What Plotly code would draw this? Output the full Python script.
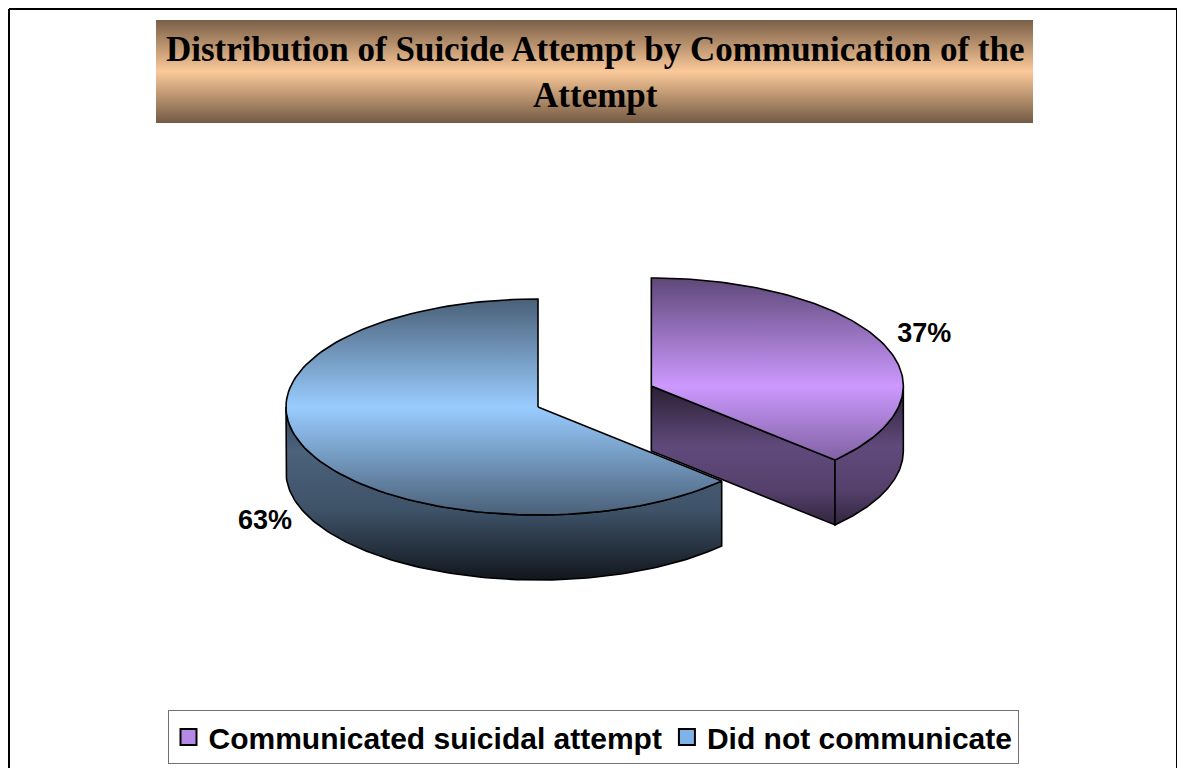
import numpy as np
import plotly.graph_objects as go

# ---- data ----
labels = ["Communicated suicidal attempt", "Did not communicate"]
values = [37, 63]
text_labels = ["37%", "63%"]
pulls = [0.49, 0.0]

# ---- styles ----
top_scales = [
    [[0, "#5e4878"], [0.5, "#cc99ff"], [1, "#5e4878"]],
    [[0, "#4a6078"], [0.5, "#99ccff"], [1, "#4a6078"]],
]
wall_scales = [
    [[0, "#2a1f33"], [0.35, "#604a7c"], [0.6, "#55406c"], [0.85, "#2a1f33"], [1, "#1e1626"]],
    [[0, "#34465a"], [0.25, "#4b627b"], [0.6, "#3e5268"], [1, "#11161d"]],
]
legend_colors = ["#b58ae6", "#7fb2e6"]

W, H = 1185, 768
OFF = 8  # page body margin
CX, CY = 538, 407
RX, RY = 252, 108
DEPTH = 65

fig = go.Figure()


def pt(theta, cx, cy, dz=0.0):
    t = np.radians(theta)
    return cx + RX * np.sin(t), cy - RY * np.cos(t) + dz


def arc(a0, a1, cx, cy, dz=0.0, n=120):
    th = np.linspace(a0, a1, n)
    xs, ys = pt(th, cx, cy, dz)
    return list(xs), list(ys)


def poly(xs, ys, scale, y0, y1, lw=1.6):
    fig.add_trace(go.Scatter(
        x=xs, y=ys, mode="lines", fill="toself",
        line=dict(color="black", width=lw),
        fillgradient=dict(type="vertical", colorscale=scale, start=y0, stop=y1),
        hoverinfo="skip", showlegend=False,
    ))


# title box with gradient
poly([156, 1033, 1033, 156, 156], [20, 20, 123, 123, 20],
     [[0, "#7a5f47"], [0.5, "#fbc999"], [1, "#735a43"]], 20, 123, lw=0)

total = sum(values)
start = 0.0
label_pos = []
for i, v in enumerate(values):
    a0 = start
    a1 = start + 360.0 * v / total
    start = a1
    mid = (a0 + a1) / 2
    m = np.radians(mid)
    cx = CX + pulls[i] * RX * np.sin(m)
    cy = CY - pulls[i] * RY * np.cos(m)
    ws = wall_scales[i]
    if np.sin(np.radians(a1)) > 1e-6:
        px, py = pt(a1, cx, cy)
        poly([cx, px, px, cx, cx], [cy, py, py + DEPTH, cy + DEPTH, cy], ws, cy, cy + RY + DEPTH)
    if np.sin(np.radians(a0)) < -1e-6:
        px, py = pt(a0, cx, cy)
        poly([cx, px, px, cx, cx], [cy, py, py + DEPTH, cy + DEPTH, cy], ws, cy, cy + RY + DEPTH)
    w0, w1 = max(a0, 90), min(a1, 270)
    if w1 > w0:
        tx, ty = arc(w0, w1, cx, cy)
        bx, by = arc(w1, w0, cx, cy, DEPTH)
        poly(tx + bx + [tx[0]], ty + by + [ty[0]], ws, cy, cy + RY + DEPTH)
    ax_, ay_ = arc(a0, a1, cx, cy)
    poly([cx] + ax_ + [cx], [cy] + ay_ + [cy], top_scales[i], cy - RY, cy + RY)
    lx, ly = pt(mid, cx, cy)
    lx = cx + 1.18 * (lx - cx)
    ly = cy + 1.18 * (ly - cy)
    if np.cos(m) < 0:
        ly += DEPTH
    label_pos.append((lx, ly))

fig.add_trace(go.Scatter(
    x=[p[0] for p in label_pos], y=[p[1] for p in label_pos],
    mode="text", text=text_labels,
    textfont=dict(family="Liberation Sans", size=27, color="black", weight="bold"),
    hoverinfo="skip", showlegend=False,
))

for lab, col in zip(labels, legend_colors):
    fig.add_trace(go.Scatter(
        x=[None], y=[None], mode="markers", name=lab,
        marker=dict(symbol="square", size=18, color=col, line=dict(color="black", width=2)),
    ))

fig.add_annotation(
    x=595, y=72, xref="x", yref="y",
    text="<b>Distribution of Suicide Attempt by Communication of the<br>Attempt</b>",
    showarrow=False, align="center",
    font=dict(family="Liberation Serif", size=35, color="black"),
)


def px_(x):
    return (x - OFF) / W


def py_(y):
    return 1 - (y - OFF) / H


# outer frame (page margin keeps it at the drawable edge)
for x0, y0, x1, y1 in [(9, 9, 1177, 9), (9, 9, 9, H + OFF), (1177, 9, 1177, H + OFF)]:
    fig.add_shape(type="line", x0=px_(x0), y0=py_(y0), x1=px_(x1), y1=py_(y1),
                  xref="paper", yref="paper", line=dict(color="black", width=2))

fig.update_layout(
    width=W, height=H,
    margin=dict(l=0, r=0, t=0, b=0),
    paper_bgcolor="white", plot_bgcolor="white",
    xaxis=dict(range=[OFF, W + OFF], visible=False, fixedrange=True),
    yaxis=dict(range=[H + OFF, OFF], visible=False, fixedrange=True),
    showlegend=True,
    legend=dict(
        orientation="h", x=px_(593), xanchor="center", y=py_(764), yanchor="bottom",
        bordercolor="#707070", borderwidth=1, bgcolor="white",
        font=dict(family="Liberation Sans", size=30, color="black", weight="bold"),
        itemclick=False, itemdoubleclick=False, tracegroupgap=0,
    ),
)

fig.write_html("out.html")
